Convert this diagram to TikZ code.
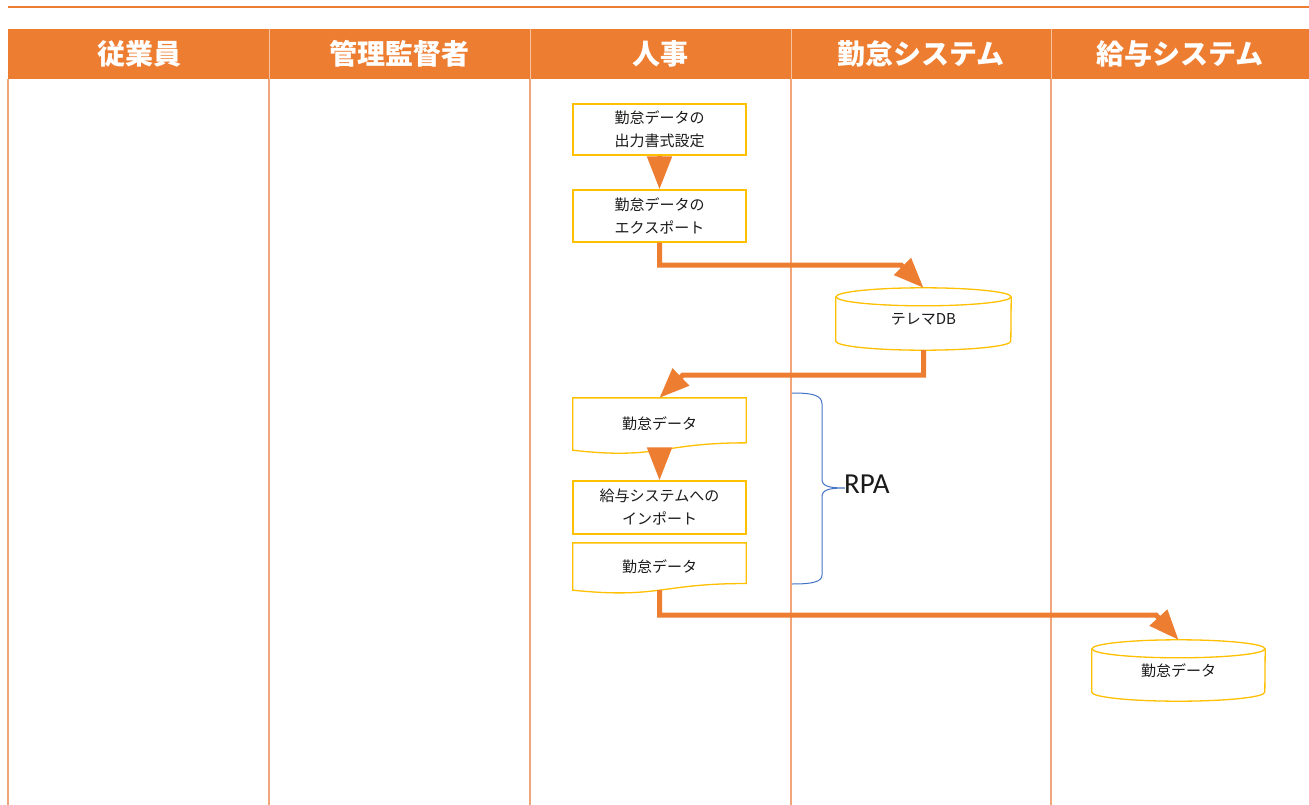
\documentclass[tikz,border=0pt]{standalone}
\usepackage{fontspec}
\setmainfont{Noto Sans CJK JP}
\newfontfamily\rpafont{Carlito}
\usetikzlibrary{arrows.meta,calc}
\definecolor{orng}{HTML}{ED7D31}
\definecolor{lane}{HTML}{F0A57A}
\definecolor{hdiv}{HTML}{F6C2A0}
\definecolor{gold}{HTML}{FFC000}
\definecolor{bluebr}{HTML}{4472C4}
\definecolor{txt}{HTML}{1A1A1A}
\newcommand{\DocShape}[1]{%
  \draw[boxline] (#1.north west) -- (#1.north east) -- ($(#1.north east)!0.802!(#1.south east)$)
    .. controls ($(#1.north)!0.802!(#1.south)$) and ($(#1.north)!1.107!(#1.south)$) ..
    ($(#1.north west)!0.934!(#1.south west)$) -- cycle;}
\newcommand{\CylShape}[2]{% name, x radius
  \draw[boxline] ($(#1.north west)+(0,9)$) -- ($(#1.south west)+(0,-9)$)
    arc[start angle=180,end angle=360,x radius=#2,y radius=9pt]
    -- ($(#1.north east)+(0,9)$);
  \draw[boxline] ($(#1.north)+(0,9)$) ellipse[x radius=#2,y radius=9pt];}
\begin{document}
\begin{tikzpicture}[x=1pt,y=-1pt,
  head/.style={text=white,font=\fontsize{28}{30}\selectfont\bfseries,inner sep=0pt},
  procbox/.style={draw=gold,line width=1.3pt,fill=white,minimum width=173pt,minimum height=52pt,
    align=center,text=txt,font=\fontsize{15}{23}\selectfont,inner sep=0pt},
  plainbox/.style={draw=none,minimum width=173pt,align=center,text=txt,
    font=\fontsize{15}{23}\selectfont,inner sep=0pt},
  boxline/.style={draw=gold,line width=1.3pt},
  conn/.style={draw=orng,line width=5pt,-{Triangle[width=23pt,length=30pt]}},
  gapconn/.style={draw=orng,line width=5pt,-{Triangle[width=24pt,length=33pt]}},
  lanel/.style={draw=lane,line width=1.2pt},
]
\useasboundingbox (0,0) rectangle (1309,805);
\fill[white] (0,0) rectangle (1309,805);
% top rule and header
\draw[orng,line width=2pt] (8,7) -- (1309,7);
\fill[orng] (8,29) rectangle (1309,79);
\foreach \x in {269,530,791,1051} \draw[hdiv,line width=1pt] (\x,29) -- (\x,79);
\foreach \x in {8,269,530,791,1051} \draw[lanel] (\x,79) -- (\x,805);
\node[head] (h1) at (139,54) {従業員};
\node[head] (h2) at (399.5,54) {管理監督者};
\node[head] (h3) at (660.5,54) {人事};
\node[head] (h4) at (921,54) {勤怠システム};
\node[head] (h5) at (1180,54) {給与システム};
% process boxes
\node[procbox,minimum height=51pt] (box1) at (659.5,129.5) {勤怠データの\\出力書式設定};
\node[procbox,minimum height=52pt] (box2) at (659.5,216) {勤怠データの\\エクスポート};
\node[procbox,minimum height=53pt] (box3) at (659.5,507.5) {給与システムへの\\インポート};
% documents
\node[plainbox,minimum height=55.7pt] (doc1) at (659.5,425.9) {\raisebox{5pt}{勤怠データ}};
\node[plainbox,minimum height=50.3pt] (doc2) at (659.5,568.2) {\raisebox{5pt}{勤怠データ}};
\DocShape{doc1}
\DocShape{doc2}
% databases
\node[plainbox,minimum width=175pt,minimum height=62pt] (db1) at (923.5,319) {\raisebox{-4pt}{テレマDB}};
\node[plainbox,minimum width=173pt,minimum height=61pt] (db2) at (1178.5,670.5) {\raisebox{-5pt}{勤怠データ}};
\CylShape{db1}{87.5pt}
\CylShape{db2}{86.5pt}
% connectors
\coordinate (c1) at (901,265);
\coordinate (c2) at (683,375);
\coordinate (c3) at (1156,615);
\draw[gapconn] (box1.south) -- (box2.north);
\draw[gapconn] ($(doc1.north)!0.933!(doc1.south)$) -- (box3.north);
\draw[conn] (box2.south) |- (c1) -- (db1.north);
\draw[conn] (db1.south) |- (c2) -- (doc1.north);
\draw[conn] ($(doc2.north)!0.933!(doc2.south)$) |- (c3) -- (db2.north);
% brace and RPA
\draw[bluebr,line width=1pt] (792,393) .. controls (812,393) and (822,395) .. (822,404)
  -- (822,479) .. controls (822,486) and (828,488) .. (845,488)
  .. controls (828,488) and (822,490) .. (822,497)
  -- (822,575) .. controls (822,582) and (812,584) .. (792,584);
\node[anchor=west,inner sep=0pt,text=txt,font=\rpafont\fontsize{29}{32}\selectfont] (rpa) at (844,484) {RPA};
\end{tikzpicture}
\end{document}
